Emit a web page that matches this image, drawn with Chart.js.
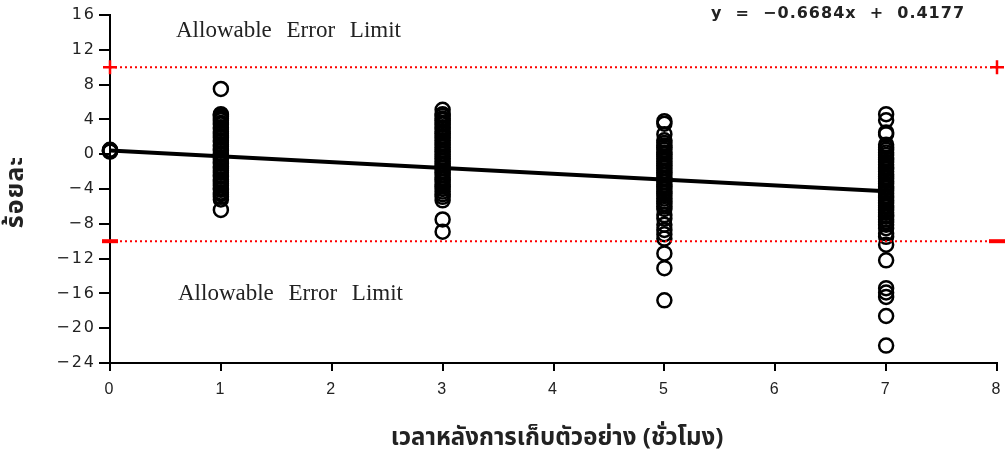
<!DOCTYPE html>
<html>
<head>
<meta charset="utf-8">
<script src="https://cdn.jsdelivr.net/npm/chart.js@4"></script>
<style>
  html, body { margin: 0; padding: 0; background: #fff; }
  #wrap { width: 1005px; height: 455px; position: relative; }
</style>
</head>
<body>
<div id="wrap"><canvas id="c"></canvas></div>
<script>
// ── Data ─────────────────────────────────────────────────────────────────
const hours = [0, 1, 3, 5, 7];
const pctAt0 = [0.4, 0.3, 0.5, 0.45, 0.35];
const pctAt1 = [7.5, 4.6, 4.5, 4.3, 4.1, 3.9, 3.6, 3.4, 3.1, 2.9, 2.6, 2.4, 2.1, 1.9, 1.6, 1.4,
  1.1, 0.9, 0.6, 0.4, 0.1, -0.1, -0.4, -0.6, -0.9, -1.1, -1.4, -1.6, -1.9, -2.1, -2.4, -2.6,
  -2.9, -3.1, -3.4, -3.6, -3.9, -4.1, -4.4, -4.6, -4.9, -5.2, -6.4];
const pctAt3 = [5.1, 4.6, 4.4, 4.1, 3.9, 3.6, 3.4, 3.1, 2.9, 2.6, 2.4, 2.1, 1.9, 1.6, 1.3, 1.1,
  0.8, 0.5, 0.3, 0.0, -0.3, -0.5, -0.8, -1.1, -1.3, -1.6, -1.9, -2.1, -2.4, -2.7, -2.9, -3.2,
  -3.5, -3.7, -4.0, -4.3, -4.6, -4.9, -5.3, -7.5, -8.9];
const pctAt5 = [3.8, 3.5, 2.3, 1.6, 1.3, 1.0, 0.8, 0.5, 0.2, 0.0, -0.3, -0.5, -0.8, -1.1, -1.3,
  -1.6, -1.9, -2.1, -2.4, -2.7, -2.9, -3.2, -3.5, -3.7, -4.0, -4.3, -4.5, -4.8, -5.1, -5.4,
  -5.7, -6.0, -6.3, -7.0, -7.4, -8.1, -8.7, -9.2, -9.7, -11.4, -13.1, -16.8];
const pctAt7 = [4.6, 3.9, 2.5, 2.3, 1.1, 0.8, 0.5, 0.2, -0.1, -0.4, -0.6, -0.9, -1.2, -1.5,
  -1.7, -2.0, -2.3, -2.6, -2.8, -3.1, -3.4, -3.7, -3.9, -4.2, -4.5, -4.8, -5.0, -5.3, -5.6,
  -5.9, -6.1, -6.4, -6.7, -7.0, -7.2, -7.5, -7.8, -8.1, -8.5, -9.1, -9.5, -10.4, -12.2,
  -15.4, -15.9, -16.4, -18.6, -22.0];
const slope = -0.6684;
const intercept = 0.4177;
const trendX = [0, 7];
const limitX = [0, 8];
const upperLimit = 10;
const lowerLimit = -10;
const xTicks = [0, 1, 2, 3, 4, 5, 6, 7, 8];
const yTicks = [-24, -20, -16, -12, -8, -4, 0, 4, 8, 12, 16];

const INK = "#000";
const RED = "#ff0000";
const THAI = "'Noto Sans Thai', 'Loma', 'Garuda', 'Noto Sans', sans-serif";

const columns = [pctAt0, pctAt1, pctAt3, pctAt5, pctAt7];
const scatter = [];
columns.forEach((vals, i) => vals.forEach(v => scatter.push({ x: hours[i], y: v })));

// ── Wider tick digits, like the reference ────────────────────────────────
const spacingPlugin = {
  id: "spacing",
  beforeDraw(chart) { chart.ctx.letterSpacing = "2px"; },
  beforeDatasetsDraw(chart) { chart.ctx.letterSpacing = "0px"; },
};

// ── Text drawn on top of the plot ────────────────────────────────────────
const labelsPlugin = {
  id: "labels",
  afterDraw(chart) {
    const ctx = chart.ctx;
    ctx.save();
    ctx.fillStyle = "#222";
    ctx.textBaseline = "middle";

    ctx.font = "23px 'Liberation Serif', 'Times New Roman', serif";
    ctx.textAlign = "left";
    ctx.wordSpacing = "9px";
    ctx.fillText("Allowable Error Limit", 176, 31);
    ctx.fillText("Allowable Error Limit", 178, 294);
    ctx.wordSpacing = "0px";

    ctx.font = "bold 16px 'DejaVu Sans', sans-serif";
    ctx.letterSpacing = "1px";
    ctx.fillText("y  =  \u22120.6684x  +  0.4177", 711, 14);
    ctx.letterSpacing = "0px";

    ctx.font = "bold 24px " + THAI;
    ctx.textAlign = "center";
    ctx.fillText("เวลาหลังการเก็บตัวอย่าง (ชั่วโมง)", 557, 440);

    ctx.translate(18, 192);
    ctx.rotate(-Math.PI / 2);
    ctx.font = "bold 25px " + THAI;
    ctx.letterSpacing = "1px";
    ctx.fillText("ร้อยละ", 0, 0);
    ctx.restore();
  }
};

new Chart(document.getElementById("c"), {
  type: "scatter",
  data: {
    datasets: [
      {
        label: "upper",
        type: "line",
        data: limitX.map(x => ({ x, y: upperLimit })),
        borderColor: RED,
        borderWidth: 2,
        borderDash: [2, 3],
        pointStyle: "cross",
        pointRadius: 7,
        pointBorderWidth: 2.5,
        pointBorderColor: RED,
        clip: false,
      },
      {
        label: "lower",
        type: "line",
        data: limitX.map(x => ({ x, y: lowerLimit })),
        borderColor: RED,
        borderWidth: 2,
        borderDash: [2, 3],
        pointStyle: "line",
        pointRadius: 8,
        pointBorderWidth: 4,
        pointBorderColor: RED,
        clip: false,
      },
      {
        label: "data",
        data: scatter,
        pointStyle: "circle",
        pointRadius: 7,
        pointBorderWidth: 2.5,
        pointBorderColor: INK,
        pointBackgroundColor: "rgba(0,0,0,0)",
        clip: false,
      },
      {
        label: "trend",
        type: "line",
        data: trendX.map(x => ({ x, y: slope * x + intercept })),
        borderColor: INK,
        borderWidth: 4,
        pointRadius: 0,
      },
    ],
  },
  options: {
    responsive: true,
    maintainAspectRatio: false,
    animation: false,
    layout: { autoPadding: false, padding: { top: 15, right: 8, left: 0, bottom: 0 } },
    plugins: { legend: { display: false }, tooltip: { enabled: false } },
    scales: {
      x: {
        type: "linear",
        min: 0,
        max: 8,
        afterBuildTicks: (s) => { s.ticks = xTicks.map(v => ({ value: v })); },
        afterFit: (s) => { s.height = 92; s.paddingLeft = 0; s.paddingRight = 0; },
        grid: { drawOnChartArea: false, drawTicks: true, tickLength: 8, color: INK, lineWidth: 2 },
        border: { display: true, color: INK, width: 2 },
        ticks: { color: "#222", font: { family: "'Liberation Sans Narrow', 'Liberation Sans', Arial, sans-serif", size: 16 }, padding: 9 },
      },
      y: {
        type: "linear",
        min: -24,
        max: 16,
        afterBuildTicks: (s) => { s.ticks = yTicks.map(v => ({ value: v })); },
        afterFit: (s) => { s.width = 110; s.paddingTop = 0; s.paddingBottom = 0; },
        grid: { drawOnChartArea: false, drawTicks: true, tickLength: 11, color: INK, lineWidth: 2 },
        border: { display: true, color: INK, width: 2 },
        ticks: {
          color: "#222",
          font: { family: "'DejaVu Sans', sans-serif", size: 16 },
          padding: 3,
          callback: (v) => String(v).replace("-", "\u2212"),
        },
      },
    },
  },
  plugins: [spacingPlugin, labelsPlugin],
});
</script>
</body>
</html>
